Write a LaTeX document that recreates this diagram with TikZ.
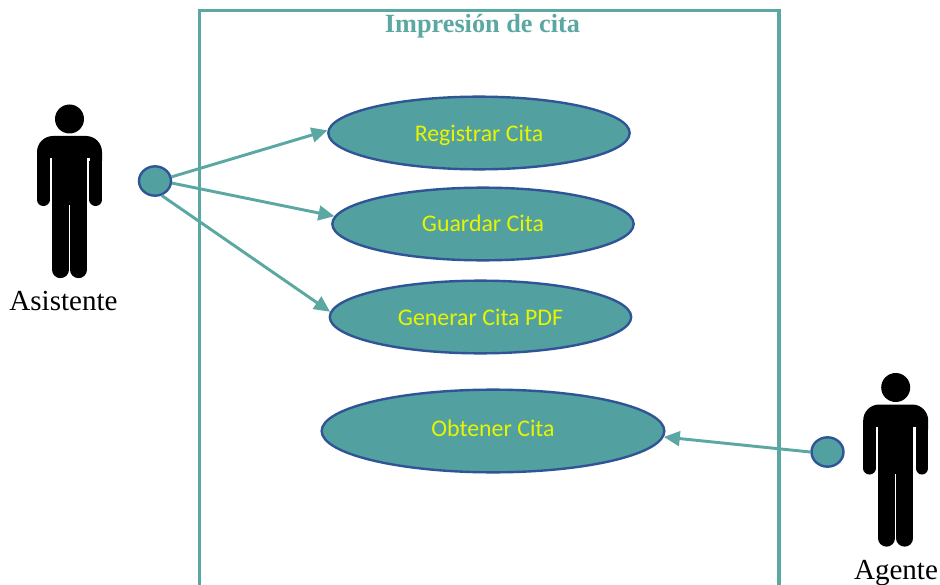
\documentclass[tikz,border=0pt]{standalone}
\usepackage{fontspec}
\setmainfont{Liberation Serif}
\newfontfamily\carlitofont{Carlito}
\usetikzlibrary{arrows.meta,shapes.geometric}
\definecolor{tealfill}{HTML}{53A0A0}
\definecolor{tealline}{HTML}{5BA8A3}
\definecolor{bluerim}{HTML}{2F5597}
\definecolor{caseyellow}{HTML}{E6F500}
\tikzset{
  x=0.75pt,y=-0.75pt,
  usecase/.style={ellipse,draw=bluerim,fill=tealfill,line width=1.8pt,inner sep=0pt,minimum width=226pt,minimum height=54.5pt},
  caselabel/.style={text=caseyellow,font=\carlitofont\fontsize{17.9}{20}\selectfont,inner sep=0pt},
  port/.style={ellipse,draw=bluerim,fill=tealfill,line width=1.8pt,inner sep=0pt,minimum width=24pt,minimum height=22pt},
  link/.style={draw=tealline,line width=2.2pt,-{Triangle[length=12pt,width=11pt]}},
  actorname/.style={font=\fontsize{21.8}{24}\selectfont,text=black,inner sep=0pt},
  pics/figura/.style={code={
    \fill[black] (0,0) circle (14.5);
    \fill[black] (-32.5,42) [rounded corners=12pt] -- (-32.5,17) -- (32.5,17) [sharp corners] -- (32.5,42) -- cycle;
    \draw[black,line width=9.4pt,line cap=round] (-26.25,37) -- (-26.25,80.75);
    \draw[black,line width=9.4pt,line cap=round] (26.25,37) -- (26.25,80.75);
    \fill[white] (-20,39) rectangle (-17.5,42);
    \fill[white] (17.5,39) rectangle (20,42);
    \fill[black] (-17.5,30) rectangle (17.5,86);
    \draw[black,line width=12.6pt,line cap=round] (-9.1,80) -- (-9.1,150.75);
    \draw[black,line width=12.6pt,line cap=round] (9.1,80) -- (9.1,150.75);
  }}
}
\begin{document}
\begin{tikzpicture}
\path[use as bounding box,fill=white] (0,0) rectangle (940,585);
\draw[tealline,line width=2.3pt] (199.5,585) -- (199.5,10.5) -- (779,10.5) -- (779,585);
\node[text=tealline,font=\bfseries\fontsize{19.7}{22}\selectfont,inner sep=0pt] (titulo) at (482.5,26) {Impresión de cita};

\node[usecase,label={[caselabel,yshift=-1.5pt]center:Registrar Cita}] (registrar) at (479,133) {};
\node[usecase,label={[caselabel,yshift=0.5pt]center:Guardar Cita}] (guardar) at (483,224) {};
\node[usecase,label={[caselabel]center:Generar Cita PDF}] (generar) at (480.5,317) {};
\node[usecase,minimum width=257pt,minimum height=62pt,label={[caselabel,yshift=2pt]center:Obtener Cita}] (obtener) at (493,431) {};

\pic at (69.5,119) {figura};
\pic at (895.7,387.5) {figura};
\node[actorname] (asistente) at (63.5,301) {Asistente};
\node[actorname] (agente) at (896,573.5) {Agente};

\node[port] (puertoA) at (155,181) {};
\node[port] (puertoB) at (827.5,452) {};

\draw[link] (puertoA.14) -- (registrar.179);
\draw[link] (puertoA.-7) -- (guardar.177);
\draw[link] (puertoA.-65) -- (generar.178);
\draw[link] (puertoB.180) -- (obtener.-2);
\end{tikzpicture}
\end{document}
